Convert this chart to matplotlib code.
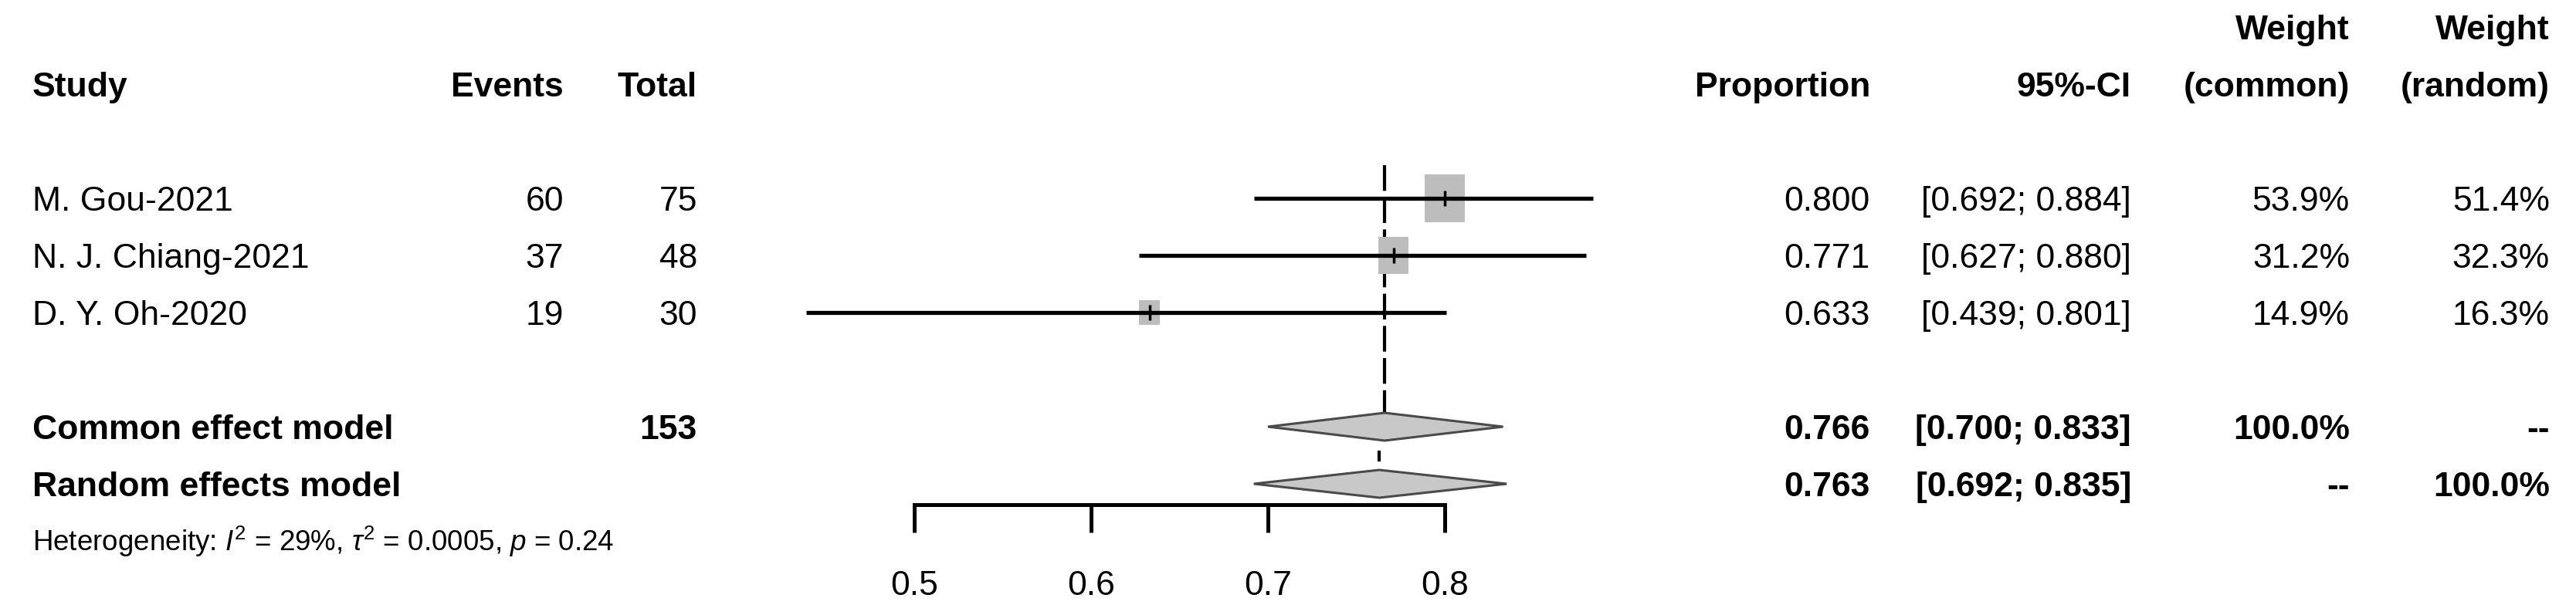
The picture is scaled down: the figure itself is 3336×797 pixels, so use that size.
import matplotlib
matplotlib.use("Agg")
import matplotlib.pyplot as plt
from matplotlib import font_manager
from matplotlib.patches import Rectangle, Polygon
from matplotlib.transforms import blended_transform_factory

# data
studies = ["M. Gou-2021", "N. J. Chiang-2021", "D. Y. Oh-2020"]
events = [60, 37, 19]
totals = [75, 48, 30]
proportion = [0.800, 0.771, 0.633]
ci_low = [0.692, 0.627, 0.439]
ci_high = [0.884, 0.880, 0.801]
weight_common = [53.9, 31.2, 14.9]
weight_random = [51.4, 32.3, 16.3]

common_est, common_low, common_high = 0.766, 0.700, 0.833
random_est, random_low, random_high = 0.763, 0.692, 0.835
total_n = 153
het_text = r"Heterogeneity: $I^2$ = 29%, $\tau^2$ = 0.0005, $p$ = 0.24"
xticks = [0.5, 0.6, 0.7, 0.8]

# layout (pixels of the 3336x797 picture)
W, H = 3336, 797
ROW0, ROWH = 257, 74          # pixel centre of first study row, row height
AXIS_PX = 654                 # y of the x axis line
X0_PX, DX_PX = 1184, 2290     # pixel of 0.5, pixels per unit proportion

names = {f.name for f in font_manager.fontManager.ttflist}
fam = "Liberation Sans Narrow" if "Liberation Sans Narrow" in names else "Liberation Sans"
plt.rcParams["font.family"] = [fam, "DejaVu Sans"]
plt.rcParams["mathtext.fontset"] = "custom"
plt.rcParams["mathtext.rm"] = fam
plt.rcParams["mathtext.it"] = fam + ":italic"
fs = 32

fig = plt.figure(figsize=(W / 100, H / 100), dpi=100)
ax = fig.add_axes([0, (H - AXIS_PX) / H, 1, AXIS_PX / H])
ax.set_xlim(0.5 - X0_PX / DX_PX, 0.5 + (W - X0_PX) / DX_PX)
ax.set_ylim(1 + (AXIS_PX - ROW0) / ROWH, 1 - ROW0 / ROWH)

for s in ["top", "left", "right"]:
    ax.spines[s].set_visible(False)
ax.spines["bottom"].set_bounds(xticks[0], xticks[-1])
ax.spines["bottom"].set_linewidth(3.6)
ax.set_xticks(xticks)
ax.set_xticklabels([f"{t:.1f}" for t in xticks])
ax.set_yticks([])
ax.tick_params(axis="x", length=26, width=3.6, direction="out", pad=35, labelsize=fs)
ax.patch.set_alpha(0)

rows = [1, 2, 3]
row_common, row_random, row_het = 5, 6, 7

# reference line at common estimate
ax.plot([common_est, common_est], [0.42, row_common - 0.23], color="black",
        lw=3, linestyle=(0, (8, 2)), zorder=1)
ax.plot([random_est, random_est], [row_common + 0.45, row_random - 0.42],
        color="black", lw=3, zorder=1)

# studies: CI lines + grey squares sized by weight
for r, p, lo, hi, w in zip(rows, proportion, ci_low, ci_high, weight_common):
    h_px = 62 * (w / max(weight_common)) ** 0.5
    w_px = h_px * 0.84
    ax.add_patch(Rectangle((p - w_px / 2 / DX_PX, r - h_px / 2 / ROWH),
                           w_px / DX_PX, h_px / ROWH, facecolor="#bdbdbd",
                           edgecolor="none", zorder=2))
    ax.plot([lo, hi], [r, r], color="black", lw=3.8, solid_capstyle="butt", zorder=3)
    ax.plot([p], [r], marker="|", markersize=15, mew=2.5, color="black", zorder=4)

# summary diamonds
dh = 18 / ROWH
for r, est, lo, hi in [(row_common, common_est, common_low, common_high),
                       (row_random, random_est, random_low, random_high)]:
    ax.add_patch(Polygon([(lo, r), (est, r - dh), (hi, r), (est, r + dh)],
                         closed=True, facecolor="#c8c8c8", edgecolor="#4a4a4a",
                         lw=2.2, zorder=3))

# table text
tr = blended_transform_factory(fig.transFigure, ax.transData)
cap = 0.716 * fs * 100 / 72  # cap height in px


def put(xpx, row, s, ha="right", bold=False, size=fs):
    ax.text(xpx / W, row + cap / 2 / ROWH * size / fs, s, transform=tr, ha=ha,
            va="baseline", fontsize=size, fontweight="bold" if bold else "normal",
            clip_on=False)


hdr = -1
put(42, hdr, "Study", ha="left", bold=True)
put(730, hdr, "Events", bold=True)
put(903, hdr, "Total", bold=True)
put(2422, hdr, "Proportion", bold=True)
put(2760, hdr, "95%-CI", bold=True)
put(3043, hdr - 1, "Weight", bold=True)
put(3043, hdr, "(common)", bold=True)
put(3302, hdr - 1, "Weight", bold=True)
put(3302, hdr, "(random)", bold=True)

for r, name, e, n, p, lo, hi, wc, wr in zip(rows, studies, events, totals, proportion,
                                            ci_low, ci_high, weight_common, weight_random):
    put(42, r, name, ha="left")
    put(730, r, f"{e}")
    put(903, r, f"{n}")
    put(2422, r, f"{p:.3f}")
    put(2760, r, f"[{lo:.3f}; {hi:.3f}]")
    put(3043, r, f"{wc:.1f}%")
    put(3302, r, f"{wr:.1f}%")

put(42, row_common, "Common effect model", ha="left", bold=True)
put(903, row_common, f"{total_n}", bold=True)
put(2422, row_common, f"{common_est:.3f}", bold=True)
put(2760, row_common, f"[{common_low:.3f}; {common_high:.3f}]", bold=True)
put(3043, row_common, "100.0%", bold=True)
put(3302, row_common, "--", bold=True)

put(42, row_random, "Random effects model", ha="left", bold=True)
put(2422, row_random, f"{random_est:.3f}", bold=True)
put(2760, row_random, f"[{random_low:.3f}; {random_high:.3f}]", bold=True)
put(3043, row_random, "--", bold=True)
put(3302, row_random, "100.0%", bold=True)

put(42, row_het, het_text, ha="left", size=26.5)

fig.savefig("out.png", dpi=100, facecolor="white")
